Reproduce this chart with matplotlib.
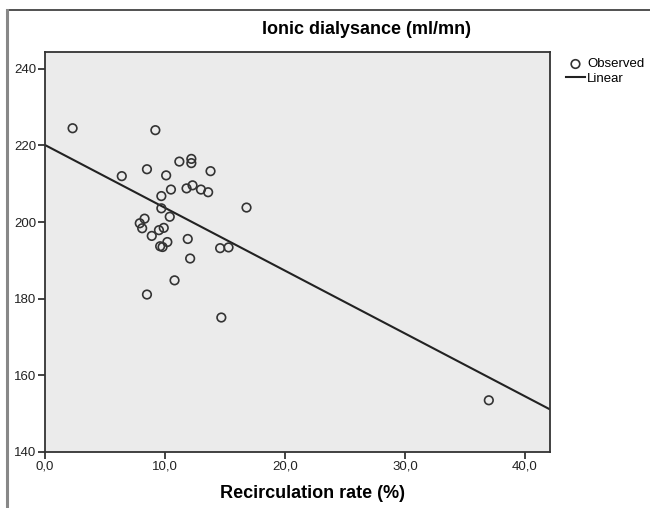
import numpy as np
import matplotlib.pyplot as plt
from matplotlib.lines import Line2D
from matplotlib.ticker import FuncFormatter

plt.rcParams['font.family'] = ['Liberation Sans', 'DejaVu Sans']

# recirculation rate (%) and ionic dialysance (ml/mn)
recirc = [2.3, 9.2, 6.4, 8.5, 10.1, 11.2, 12.2, 12.2, 13.8, 10.5, 11.8, 12.3,
          13.0, 13.6, 9.7, 16.8, 9.7, 10.4, 8.3, 7.9, 8.1, 9.9, 9.5, 8.9,
          10.2, 9.6, 9.8, 11.9, 14.6, 15.3, 12.1, 10.8, 8.5, 14.7, 37.0]
dialysance = [224.5, 224.0, 212.0, 213.8, 212.2, 215.8, 216.5, 215.4, 213.3, 208.5,
              208.8, 209.6, 208.5, 207.8, 206.8, 203.8, 203.6, 201.4, 200.9, 199.7,
              198.4, 198.5, 197.9, 196.4, 194.8, 193.7, 193.5, 195.6, 193.2, 193.4,
              190.5, 184.8, 181.1, 175.1, 153.5]

x = np.array(recirc)
y = np.array(dialysance)
slope, intercept = np.polyfit(x, y, 1)

fig = plt.figure(figsize=(6.5, 5.08), dpi=100)
ax = fig.add_axes([45 / 650, 1 - 452 / 508, 505 / 650, 400 / 508])
ax.set_facecolor('#ebebeb')

xs = np.array([0, 42.1])
ax.plot(xs, intercept + slope * xs, color='#222222', lw=1.5, label='Linear', zorder=2)
ax.scatter(x, y, s=38, facecolors='none', edgecolors='#333333', linewidths=1.2,
           label='Observed', zorder=3)

ax.set_xlim(0, 42.1)
ax.set_ylim(140, 244.4)
ax.set_xticks([0, 10, 20, 30, 40])
ax.set_yticks([140, 160, 180, 200, 220, 240])
ax.xaxis.set_major_formatter(FuncFormatter(lambda v, p: f"{v:.1f}".replace('.', ',')))
ax.yaxis.set_major_formatter(FuncFormatter(lambda v, p: f"{v:.0f}"))
ax.tick_params(direction='out', length=5, width=1.2, labelsize=9.5, colors='#222222', pad=1)
for s in ax.spines.values():
    s.set_linewidth(1.3)
    s.set_color('#333333')

fig.text(367 / 650, 1 - 30 / 508, 'Ionic dialysance (ml/mn)', ha='center', va='center',
         fontsize=13, fontweight='bold')
fig.text(312 / 650, 1 - 494 / 508, 'Recirculation rate (%)', ha='center', va='center',
         fontsize=13, fontweight='bold')

handles, labels = ax.get_legend_handles_labels()
fig.legend(handles[::-1], labels[::-1], loc='upper left',
           bbox_to_anchor=(557 / 650, 1 - 49 / 508), frameon=False, fontsize=9.5,
           handlelength=1.4, handletextpad=0.2, labelspacing=0.15, borderpad=0.2)

# outer chart frame (top and left edges)
fig.add_artist(Line2D([8 / 650, 1], [1 - 10 / 508, 1 - 10 / 508], color='#333333', lw=1.2))
fig.add_artist(Line2D([7 / 650, 7 / 650], [0, 1 - 10 / 508], color='#888888', lw=2.2))

fig.savefig('out.png', dpi=100)
